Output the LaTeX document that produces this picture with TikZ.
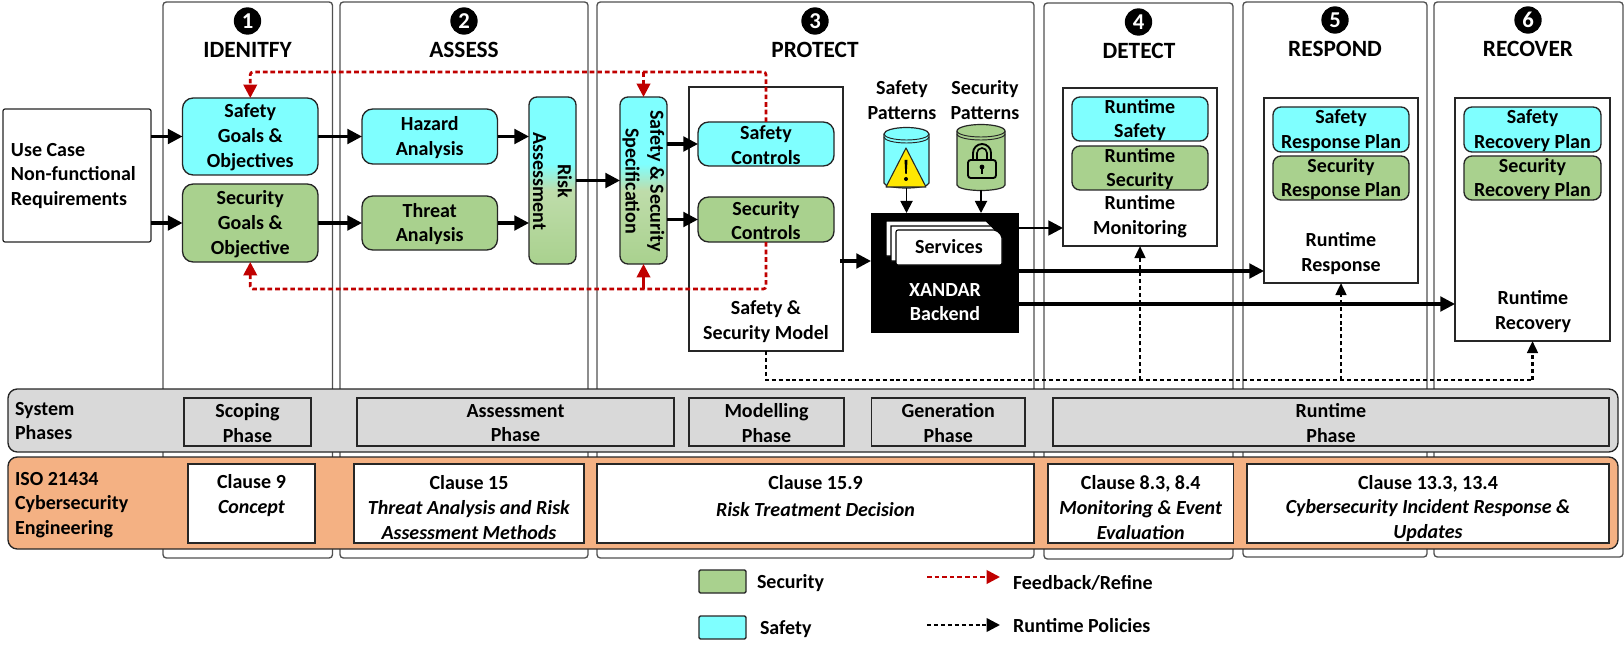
\documentclass[tikz,border=0pt]{standalone}
\usepackage{fontspec}
\setmainfont{Carlito}
\usetikzlibrary{arrows.meta,calc}
\definecolor{cy}{HTML}{7FFFFF}
\definecolor{gr}{HTML}{A9D18E}
\definecolor{or}{HTML}{F4B183}
\definecolor{gy}{HTML}{D9D9D9}
\definecolor{rd}{HTML}{C00000}
\definecolor{ln}{HTML}{262626}
\pgfdeclareverticalshading{riskgrad}{100bp}{color(0bp)=(gr); color(25bp)=(gr); color(47bp)=(gr!75!white); color(55bp)=(cy); color(100bp)=(cy)}
\def\tdy{1}
\newcommand{\bx}[7][]{\node[#1,minimum width={(#4-#2)*0.75pt},minimum height={(#5-#3)*0.75pt}] (#6) at ({(#2+#4)/2},{(#3+#5)/2}) {};
\node[txt] (#6t) at ({(#2+#4)/2},{(#3+#5)/2+\tdy}) {#7};}
\tikzset{
 x=0.75pt,y=-0.75pt,
 txt/.style={font=\fontsize{15}{18.6}\selectfont\bfseries,align=center,inner sep=0pt,outer sep=0pt,text=black},
 panel/.style={txt,draw=ln!80!white,line width=1pt,rounded corners=2.5pt,fill=white},
 sq/.style={txt,draw=ln,line width=0.9pt,fill=white},
 phasebox/.style={txt,draw=ln,line width=0.9pt,fill=gy},
 big/.style={txt,draw=ln,line width=1pt,rounded corners=8pt},
 mid/.style={txt,draw=ln,line width=1pt,rounded corners=6pt},
 cyb/.style={fill=cy},
 grb/.style={fill=gr},
 band/.style={txt,draw=ln,line width=1pt,rounded corners=7pt},
 flow/.style={-{Triangle[length=11pt,width=11pt]},line width=2.3pt,black},
 thin/.style={-{Triangle[length=9pt,width=9pt]},line width=1.4pt,black},
 fb/.style={-{Triangle[length=10pt,width=10pt]},line width=2pt,rd,dash pattern=on 3.5pt off 2.2pt,rounded corners=2pt},
 rtp/.style={-{Triangle[length=9pt,width=8pt]},line width=1.8pt,black,dash pattern=on 3pt off 2.2pt},
 badge/.style={circle,fill=black,minimum size=20.5pt,inner sep=0pt,text=white,font=\fontsize{17}{17}\selectfont\bfseries},
 head/.style={txt,font=\fontsize{17.5}{18}\selectfont\bfseries},
 lft/.style={txt,anchor=west,align=left},
}
\begin{document}
\begin{tikzpicture}
\useasboundingbox (0,0) rectangle (1624,649);
% panels
\bx[panel]{163}{2}{332.5}{558}{p1}{}
\bx[panel]{340}{2}{588}{558}{p2}{}
\bx[panel]{597}{2}{1034}{558}{p3}{}
\bx[panel]{1044}{3}{1233}{559}{p4}{}
\bx[panel]{1243}{2}{1427}{557}{p5}{}
\bx[panel]{1434}{2}{1623}{557}{p6}{}
\node[badge] (b1) at (247.5,21) {1};
\node[badge] (b2) at (464,21) {2};
\node[badge] (b3) at (815,21) {3};
\node[badge] (b4) at (1138.5,22) {4};
\node[badge] (b5) at (1335,20) {5};
\node[badge] (b6) at (1528,20) {6};
\node[head] (h1) at (247.5,50) {IDENITFY};
\node[head] (h2) at (464,50) {ASSESS};
\node[head] (h3) at (815,50) {PROTECT};
\node[head] (h4) at (1139,51) {DETECT};
\node[head] (h5) at (1335,49) {RESPOND};
\node[head] (h6) at (1528,49) {RECOVER};
% use case
\bx[sq,rounded corners=1.5pt]{3}{109}{151}{242}{uc}{}
\node[lft] (uct) at (11,176) {Use Case\\Non-functional\\Requirements};
% goals
\bx[big,cyb]{182.5}{98}{318}{175}{sg}{Safety\\Goals \&\\Objectives}
\bx[big,grb]{182.5}{184}{318}{262}{cg}{Security\\Goals \&\\Objective}
\bx[big,cyb]{362}{109}{497.5}{164}{ha}{Hazard\\Analysis}
\bx[big,grb]{362}{196}{497.5}{250}{ta}{Threat\\Analysis}
% risk and spec
\bx[mid,shading=riskgrad]{529}{97}{576}{264}{ra}{}
\node[txt,rotate=-90] (rat) at (552.5,181) {Risk\\Assessment};
\bx[mid,shading=riskgrad]{620}{97}{667}{264}{sp}{}
\node[txt,rotate=-90] (spt) at (643.5,181) {Safety \& Security\\Specification};
% model
\bx[sq]{689}{87}{843}{351}{mo}{}
\bx[big,cyb]{698}{122}{834}{166}{sc}{Safety\\Controls}
\bx[big,grb]{698}{197}{834}{242}{cc}{Security\\Controls}
\node[txt] (mot) at (766,322) {Safety \&\\Security Model};
% patterns
\node[txt] (spl) at (902,100) {Safety\\Patterns};
\node[txt] (cpl) at (985,100) {Security\\Patterns};
\node[minimum width=33.75pt,minimum height=45.75pt,inner sep=0pt,outer sep=0pt] (sdb) at (906.5,157.5) {};
\node[minimum width=36pt,minimum height=49.5pt,inner sep=0pt,outer sep=0pt] (cdb) at (981,157) {};
\draw[ln,line width=0.9pt,fill=cy] (884,134) -- (884,183) arc[start angle=180,end angle=360,x radius=22.5,y radius=-5] -- (929,134) arc[start angle=0,end angle=180,x radius=22.5,y radius=-6.5] -- cycle;
\draw[ln,line width=0.7pt] (884,134) arc[start angle=180,end angle=360,x radius=22.5,y radius=-6];
\draw[ln,line width=0.7pt] (884,137) arc[start angle=180,end angle=360,x radius=22.5,y radius=-6];
\draw[ln,line width=0.8pt,fill=yellow!90!orange,line join=round] (906,148) -- (926,187) -- (886,187) -- cycle;
\fill[black] (904.5,160) -- (907.5,160) -- (906.7,174) -- (905.3,174) -- cycle;
\fill[black] (906,179) circle[radius=2];
\draw[ln,line width=0.9pt,fill=gr] (957,131) -- (957,185) arc[start angle=180,end angle=360,x radius=24,y radius=-5.5] -- (1005,131) arc[start angle=0,end angle=180,x radius=24,y radius=-6.5] -- cycle;
\draw[ln,line width=0.7pt] (957,131) arc[start angle=180,end angle=360,x radius=24,y radius=-6];
\draw[ln,line width=0.7pt] (957,134) arc[start angle=180,end angle=360,x radius=24,y radius=-6];
\draw[black,line width=1.4pt,rounded corners=2pt] (968,160) rectangle (996,178);
\draw[black,line width=1.4pt] (973,160) -- (973,153) arc[start angle=180,end angle=360,x radius=9,y radius=9] -- (991,160);
\draw[black,line width=1.2pt] (977,160) -- (977,153) arc[start angle=180,end angle=360,x radius=5,y radius=5] -- (987,160);
\fill[black] (982,167) circle[radius=2.4];
\fill[black] (980.7,167) rectangle (983.3,174);
% backend
\bx[txt,fill=black]{871}{213}{1019}{333}{be}{}
\foreach \dx/\dy in {-10/-9,-5/-4}{
\fill[white,draw=black,line width=0.8pt] (896+\dx,230+\dy) -- (996+\dx,230+\dy) -- (1002+\dx,236+\dy) -- (1002+\dx,265+\dy) -- (896+\dx,265+\dy) -- cycle;}
\fill[white,draw=black,line width=0.8pt,rounded corners=1.5pt] (896,230) -- (996,230) -- (1002,236) -- (1002,265) -- (896,265) -- cycle;
\node[txt] (sv) at (949,247) {Services};
\node[txt,text=white] (bet) at (945,302) {XANDAR\\Backend};
% detect
\bx[sq]{1063}{88}{1217}{246}{mn}{}
\bx[mid,cyb]{1072}{97}{1208}{141}{rs}{Runtime\\Safety}
\bx[mid,grb]{1072}{146}{1208}{190}{rc}{Runtime\\Security}
\node[txt] (mnt) at (1140,216.5) {Runtime\\Monitoring};
% respond
\bx[sq]{1264}{98}{1418}{283}{rp}{}
\bx[mid,cyb]{1273}{107}{1409}{152}{rps}{Safety\\Response Plan}
\bx[mid,grb]{1273}{156}{1409}{200}{rpc}{Security\\Response Plan}
\node[txt] (rpt) at (1341,253.5) {Runtime\\Response};
% recover
\bx[sq]{1455}{98}{1610}{341}{rv}{}
\bx[mid,cyb]{1464}{107}{1601}{152}{rvs}{Safety\\Recovery Plan}
\bx[mid,grb]{1464}{156}{1601}{200}{rvc}{Security\\Recovery Plan}
\node[txt] (rvt) at (1533,311.5) {Runtime\\Recovery};
% flow connectors
\draw[flow] (uc.east |- sg.west) -- (sg.west);
\draw[flow] (uc.east |- cg.west) -- (cg.west);
\draw[flow] (sg.east) -- (ha.west);
\draw[flow] (cg.east |- ta.west) -- (ta.west);
\draw[flow] (ha.east) -- (ra.west |- ha.east);
\draw[flow] (ta.east) -- (ra.west |- ta.east);
\draw[flow] (ra.east) -- (sp.west);
\draw[flow] (sp.east |- sc.west) -- (sc.west);
\draw[flow] (sp.east |- cc.west) -- (cc.west);
\coordinate (mbe) at (840,261);
\draw[flow] (mbe) -- (be.west |- mbe);
\coordinate (m1) at (1019,228);
\coordinate (m2) at (1019,271);
\coordinate (m3) at (1019,304);
\draw[flow,line width=2pt] (m1) -- (mn.west |- m1);
\draw[flow] (m2) -- (rp.west |- m2);
\draw[flow] (m3) -- (rv.west |- m3);
\draw[thin] (sdb.south) -- (sdb.south |- be.north);
\draw[thin] (cdb.south) -- (cdb.south |- be.north);
% feedback
\coordinate (ft) at (0,72);
\coordinate (fb) at (0,289);
\draw[fb] (sc.north) -- (sc.north |- ft) -- (sg.north |- ft) -- (sg.north);
\draw[fb] (cc.south) -- (cc.south |- fb) -- (cg.south |- fb) -- (cg.south);
\draw[fb] (sp.north |- ft) -- (sp.north);
\draw[fb,dash pattern=] (sp.south |- fb) -- (sp.south);
% bands
\bx[band,fill=gy]{8}{389}{1618}{452}{sys}{}
\node[lft] (syst) at (15,421) {System\\Phases};
\bx[band,fill=or]{8}{457}{1618}{549}{iso}{}
\node[lft] (isot) at (15,505) {ISO 21434\\Cybersecurity\\Engineering};
\bx[phasebox]{184}{398}{311}{446}{f1}{Scoping\\Phase}
\bx[phasebox]{357}{398}{674}{446}{f2}{Assessment\\Phase}
\bx[phasebox]{689}{398}{844}{446}{f3}{Modelling\\Phase}
\bx[phasebox]{871.5}{398}{1025}{446}{f4}{Generation\\Phase}
\bx[phasebox]{1053}{398}{1609}{446}{f5}{Runtime\\Phase}
\def\tdy{3}
\bx[sq]{188}{464}{315}{543}{c1}{Clause 9\\\textit{Concept}\\\phantom{X}}
\def\tdy{4}
\bx[sq]{354}{464}{584}{543}{c2}{Clause 15\\\textit{Threat Analysis and Risk}\\\textit{Assessment Methods}}
\def\tdy{5}
\bx[sq]{597}{464}{1034}{543}{c3}{Clause 15.9\\[2pt]\textit{Risk Treatment Decision}\\\phantom{X}}
\def\tdy{4}
\bx[sq]{1048}{464}{1233.5}{543}{c4}{Clause 8.3, 8.4\\\textit{Monitoring \& Event}\\\textit{Evaluation}}
\def\tdy{5}
\bx[sq]{1247}{464}{1609}{543}{c5}{Clause 13.3, 13.4\\\textit{Cybersecurity Incident Response \&}\\\textit{Updates}}
% runtime policies
\coordinate (ry) at (0,380);
\draw[rtp,-] (mo.south) -- (mo.south |- ry) -- (rv.south |- ry);
\draw[rtp] (mn.south |- ry) -- (mn.south);
\draw[rtp] (rp.south |- ry) -- (rp.south);
\draw[rtp] (rv.south |- ry) -- (rv.south);
% legend
\bx[txt,draw=ln,line width=1pt,fill=gr,rounded corners=1pt]{699}{570}{746}{593}{lg}{}
\bx[txt,draw=ln,line width=1pt,fill=cy,rounded corners=1pt]{699}{616}{746}{639}{lc}{}
\node[lft] (lgt) at (757,583) {Security};
\node[lft] (lct) at (760,629) {Safety};
\coordinate (la1) at (927,577);
\coordinate (la2) at (1000,577);
\coordinate (lb1) at (927,625);
\coordinate (lb2) at (1000,625);
\draw[fb] (la1) -- (la2);
\draw[rtp,-{Triangle[length=10pt,width=10pt]}] (lb1) -- (lb2);
\node[lft] (lrt) at (1013,583) {Feedback/Refine};
\node[lft] (lbt) at (1013,626) {Runtime Policies};
\end{tikzpicture}
\end{document}
